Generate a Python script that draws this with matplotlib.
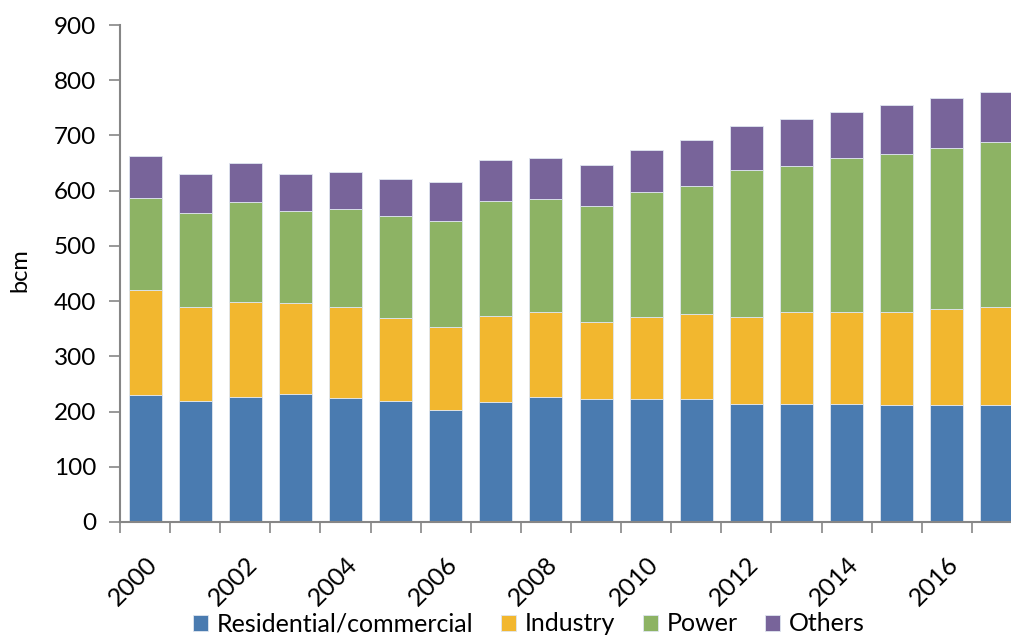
import numpy as np
import matplotlib.pyplot as plt
from matplotlib.transforms import ScaledTranslation

years = list(range(2000, 2018))
residential = [230, 220, 226, 232, 224, 220, 203, 218, 226, 222, 222, 222, 214, 214, 214, 212, 212, 212]
industry = [191, 169, 172, 165, 165, 149, 150, 155, 155, 141, 149, 155, 158, 167, 167, 169, 173, 177]
power = [165, 170, 182, 166, 178, 186, 192, 209, 204, 210, 226, 231, 265, 263, 278, 285, 293, 300]
others = [77, 72, 71, 68, 67, 67, 70, 73, 75, 74, 76, 83, 81, 85, 84, 89, 90, 90]

series = [
    ('Residential/commercial', residential, '#4a7bb0'),
    ('Industry', industry, '#f2b72f'),
    ('Power', power, '#8db364'),
    ('Others', others, '#78649a'),
]

plt.rcParams['font.family'] = ['Lato', 'DejaVu Sans']

fig = plt.figure(figsize=(10.11, 6.4), dpi=100)
W, H = 1011, 640
ax = fig.add_axes([120 / W, (H - 522) / H, (1022 - 120) / W, (522 - 25) / H])

x = np.arange(len(years))
bottom = np.zeros(len(years))
handles = []
for name, vals, col in series:
    vals = np.array(vals, dtype=float)
    b = ax.bar(x, vals, width=0.66, bottom=bottom, color=col,
               edgecolor='#dfe6f0', linewidth=0.6, label=name)
    handles.append(b)
    bottom += vals

ax.set_xlim(-0.5, len(years) - 0.5)
ax.set_ylim(0, 900)
ax.set_yticks(np.arange(0, 901, 100))

# boundary ticks between categories, labels on every other year
ax.set_xticks(np.arange(-0.5, len(years), 1.0))
ax.set_xticklabels([])
ax.set_xticks(x[::2], minor=True)
ax.set_xticklabels([str(y) for y in years[::2]], minor=True,
                   rotation=45, ha='right', va='top', rotation_mode='anchor')
shift = ScaledTranslation(-0.06, 0, fig.dpi_scale_trans)
for lbl in ax.get_xticklabels(minor=True):
    lbl.set_transform(lbl.get_transform() + shift)
ax.tick_params(axis='x', which='major', length=8, color='#868686', width=1.2)
ax.tick_params(axis='x', which='minor', length=0, pad=22, labelsize=18)
ax.tick_params(axis='y', length=8, color='#868686', width=1.2, labelsize=17.5, pad=9)

for s in ['top', 'right']:
    ax.spines[s].set_visible(False)
for s in ['left', 'bottom']:
    ax.spines[s].set_color('#868686')
    ax.spines[s].set_linewidth(1.5)

fig.text(20 / W, 1 - 270 / H, 'bcm', rotation=90, ha='center', va='center', fontsize=17)

fig.legend(handles=handles, loc='lower center', bbox_to_anchor=(0.523, -0.028), ncol=4,
           frameon=False, fontsize=18, handlelength=0.6, handleheight=0.6,
           handletextpad=0.35, columnspacing=1.1)

fig.savefig('out.png', dpi=100)
